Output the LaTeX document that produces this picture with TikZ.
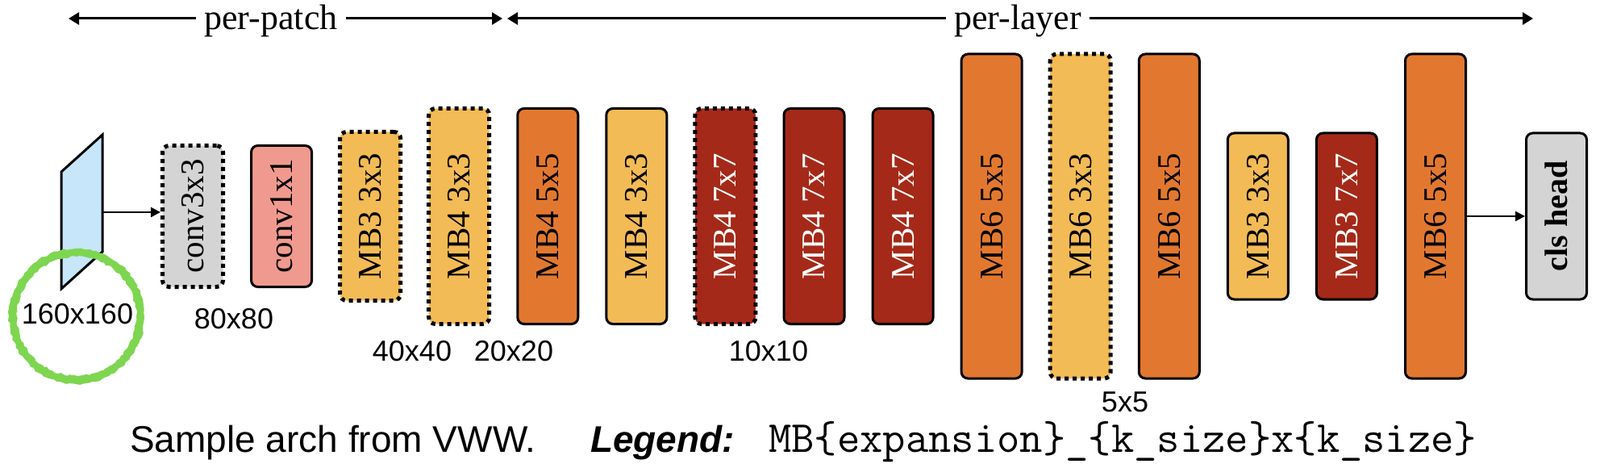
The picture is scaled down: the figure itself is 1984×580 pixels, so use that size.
\documentclass[tikz,border=0pt]{standalone}
\usepackage{fontspec}
\setmainfont{Liberation Serif}
\setsansfont{Liberation Sans}
\usetikzlibrary{%
    arrows.meta,%
    calc,%
    decorations.pathmorphing,%
    positioning
}
\definecolor{convgray}{RGB}{212,212,212}
\definecolor{convpink}{RGB}{240,154,143}
\definecolor{kthree}{RGB}{242,187,85}
\definecolor{kfive}{RGB}{226,120,47}
\definecolor{kseven}{RGB}{165,41,24}
\definecolor{inputblue}{RGB}{199,230,250}
\definecolor{ringgreen}{RGB}{126,214,80}
\tikzset{
    block/.style={draw=black,rounded corners=8pt,minimum width=75pt,inner sep=0pt,
        font=\fontsize{41}{45}\selectfont},
    keptblk/.style={line width=3pt},
    searchblk/.style={line width=5pt,dash pattern=on 5pt off 5pt},
    sizelbl/.style={inner sep=0pt,font=\sffamily\fontsize{36}{40}\selectfont},
    toplbl/.style={anchor=base,inner ysep=0pt,inner xsep=10pt,font=\fontsize{44}{48}\selectfont},
    spanline/.style={line width=3pt,-{Triangle[length=13pt,width=15pt]}},
    flow/.style={line width=2.5pt,-{Triangle[length=12pt,width=12pt]}},
    crayon/.style={ringgreen,line width=4pt,decorate,
        decoration={random steps,segment length=4pt,amplitude=1.2pt}}
}
\begin{document}
\begin{tikzpicture}[x=1pt,y=-1pt]
    \useasboundingbox (0,0) rectangle (1984,580);
    % Row of blocks, all centred on one line
    \pgfmathsetmacro{\cy}{268};
    % Horizontal pitch of the blocks
    \pgfmathsetmacro{\dx}{110.07};

    % Input image
    \draw[fill=inputblue,line width=3pt] (76,213) -- (127,167) -- (127,312) -- (76,358) -- cycle;
    \coordinate (img) at (127,263);
    % Hand drawn ring round the input resolution
    \draw[ringgreen,line width=7pt] (95,392) circle[radius=79pt];
    \foreach \rr in {76,79,82}%
    {%
        \draw[crayon] (95,392) circle[radius=\rr pt];
    }
    \node[sizelbl] (res160) at (96,389) {160x160};

    % Draw blocks of the sample arch
    \foreach \lbl/\fillc/\txtc/\h/\sty [count=\i] in {%
        conv3x3/convgray/black/175/searchblk,
        conv1x1/convpink/black/175/keptblk,
        MB3 3x3/kthree/black/209/searchblk,
        MB4 3x3/kthree/black/267/searchblk,
        MB4 5x5/kfive/black/267/keptblk,
        MB4 3x3/kthree/black/267/keptblk,
        MB4 7x7/kseven/white/267/searchblk,
        MB4 7x7/kseven/white/267/keptblk,
        MB4 7x7/kseven/white/267/keptblk,
        MB6 5x5/kfive/black/402/keptblk,
        MB6 3x3/kthree/black/402/searchblk,
        MB6 5x5/kfive/black/402/keptblk,
        MB3 3x3/kthree/black/206/keptblk,
        MB3 7x7/kseven/white/206/keptblk,
        MB6 5x5/kfive/black/402/keptblk}%
    {%
        \pgfmathsetmacro{\bx}{239+\dx*(\i-1)}
        \node[block,\sty,fill=\fillc,text=\txtc,minimum height=\h pt] (b\i) at (\bx,\cy) {\rotatebox{90}{\lbl}};
    }
    \node[block,keptblk,fill=convgray,minimum height=206pt,font=\bfseries\fontsize{40}{44}\selectfont] (cls) at (1930,\cy) {\rotatebox{90}{cls head}};

    % Connectors in and out of the network
    \draw[flow] (img) -- (img -| b1.west);
    \draw[flow] (b15) -- (cls);

    % Resolution of each stage
    \node[sizelbl] (res80) at (290,395) {80x80};
    \node[sizelbl] (res40) at (511,435) {40x40};
    \node[sizelbl] (res20) at (637,435) {20x20};
    \node[sizelbl] (res10) at (953,435) {10x10};
    \node[sizelbl] (res5) at (1395,498) {5x5};

    % Scope of the inference schedule
    \coordinate (pp-l) at (85,23);
    \coordinate (pp-r) at (623,23);
    \coordinate (pl-l) at (629,23);
    \coordinate (pl-r) at (1901,23);
    \node[toplbl] (pp) at (336,37) {per-patch};
    \node[toplbl] (pl) at (1262,37) {per-layer};
    \draw[spanline] (pp.west |- pp-l) -- (pp-l);
    \draw[spanline] (pp.east |- pp-r) -- (pp-r);
    \draw[spanline] (pl.west |- pl-l) -- (pl-l);
    \draw[spanline] (pl.east |- pl-r) -- (pl-r);

    % Caption and legend
    \node[anchor=base west,inner sep=0pt,font=\sffamily\fontsize{46}{50}\selectfont] (cap) at (161,560) {Sample arch from VWW.};
    \node[anchor=base west,inner sep=0pt,font=\sffamily\bfseries\itshape\fontsize{46}{50}\selectfont] (leg) at (732,560) {Legend:};
    \node[anchor=base west,inner sep=0pt,font=\ttfamily\fontsize{55}{60}\selectfont] (fmt) at (953,560) {MB\{expansion\}\_\{k\_size\}x\{k\_size\}};
\end{tikzpicture}
\end{document}
